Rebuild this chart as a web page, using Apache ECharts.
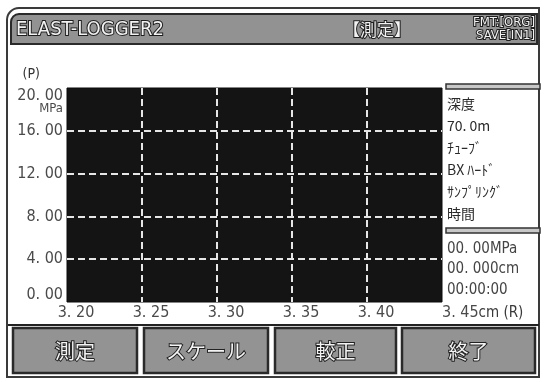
<!DOCTYPE html>
<html>
<head>
<meta charset="utf-8">
<script src="https://cdn.jsdelivr.net/npm/echarts@6/dist/echarts.min.js"></script>
<style>
  html, body { margin: 0; padding: 0; background: #fff; }
  #chart { width: 545px; height: 382px; }
</style>
</head>
<body>
<div id="chart"></div>
<script>
// Axis ticks of the pressure / displacement plot
var xTicks = [3.20, 3.25, 3.30, 3.35, 3.40, 3.45];
var yTicks = [0, 4, 8, 12, 16, 20];
var xUnit = 'cm (R)';
var yUnit = 'MPa';
var yName = '(P)';

// Status panel texts
var infoTop = ['深度', '70. 0m', 'ﾁｭｰﾌﾞ', 'BX ﾊｰﾄﾞ', 'ｻﾝﾌﾟﾘﾝｸﾞ', '時間'];
var infoBottom = ['00. 00MPa', '00. 000cm', '00:00:00'];
var buttons = ['測定', 'スケール', '較正', '終了'];

var numFamily = '"DejaVu Sans Condensed", "DejaVu Sans", sans-serif';
var numFont = numFamily;
var jpFont = '"Noto Sans CJK JP", sans-serif';

function fmtNum(v, d) {
  var s = v.toFixed(d);
  return s.replace('.', '. ');
}

var graphics = [];
// outer frame
graphics.push({ type: 'rect', shape: { x: 7, y: 8, width: 532, height: 369, r: [12, 0, 0, 0] },
  style: { fill: 'none', stroke: '#3a3a3a', lineWidth: 2 }, z: 1 });
// title bar
graphics.push({ type: 'rect', shape: { x: 11, y: 14, width: 526, height: 30, r: [8, 0, 0, 0] },
  style: { fill: '#929292', stroke: '#2a2a2a', lineWidth: 2 }, z: 2 });
var titleStyle = { fill: '#f2f2f2', stroke: '#1e1e1e', lineWidth: 2 };
graphics.push({ type: 'text', x: 16, y: 30, style: Object.assign({ text: 'ELAST-LOGGER2',
  font: '20px ' + numFont, verticalAlign: 'middle' }, titleStyle), z: 3 });
graphics.push({ type: 'text', x: 343, y: 30, style: Object.assign({ text: '【測定】',
  font: '17px ' + jpFont, verticalAlign: 'middle' }, titleStyle), z: 3 });
graphics.push({ type: 'text', x: 535, y: 23, style: Object.assign({ text: 'FMT:[ORG]',
  font: '13px ' + numFont, verticalAlign: 'middle', align: 'right' }, titleStyle), z: 3 });
graphics.push({ type: 'text', x: 535, y: 36, style: Object.assign({ text: 'SAVE[IN1]',
  font: '13px ' + numFont, verticalAlign: 'middle', align: 'right' }, titleStyle), z: 3 });

// status panel separators
[84, 228].forEach(function (y) {
  graphics.push({ type: 'rect', shape: { x: 446, y: y, width: 94, height: 5 },
    style: { fill: '#c8c8c8', stroke: '#333', lineWidth: 1.5 }, z: 2 });
});
infoTop.forEach(function (t, i) {
  graphics.push({ type: 'text', x: 447, y: 104 + i * 22, style: { text: t,
    font: '14px ' + jpFont, fill: '#2a2a2a', verticalAlign: 'middle' }, z: 3 });
});
infoBottom.forEach(function (t, i) {
  graphics.push({ type: 'text', x: 447, y: 249 + i * 20.5, style: { text: t,
    font: '15px ' + numFont, fill: '#444', verticalAlign: 'middle' }, z: 3 });
});

// bottom button row
graphics.push({ type: 'line', shape: { x1: 8, y1: 325, x2: 539, y2: 325 },
  style: { stroke: '#222', lineWidth: 2 }, z: 2 });
var bx = [13, 144, 275, 402], bw = [124, 124, 121, 133];
buttons.forEach(function (t, i) {
  graphics.push({ type: 'rect', shape: { x: bx[i], y: 328, width: bw[i], height: 45 },
    style: { fill: '#939393', stroke: '#2a2a2a', lineWidth: 2.5 }, z: 2 });
  graphics.push({ type: 'text', x: bx[i] + bw[i] / 2, y: 351, style: { text: t,
    font: '20px ' + jpFont, fill: '#f4f4f4', stroke: '#222', lineWidth: 2,
    align: 'center', verticalAlign: 'middle' }, z: 3 });
});

var labelText = { fontFamily: numFamily, fontSize: 16, color: '#4a4a4a' };

var chart = echarts.init(document.getElementById('chart'), null, { renderer: 'canvas' });
chart.setOption({
  animation: false,
  backgroundColor: '#ffffff',
  grid: {
    left: 67, top: 88, width: 375, height: 214,
    show: true, backgroundColor: '#141414', borderColor: '#0a0a0a', borderWidth: 1
  },
  xAxis: {
    type: 'value',
    min: xTicks[0], max: xTicks[xTicks.length - 1], interval: 0.05,
    axisLine: { show: false }, axisTick: { show: false },
    splitLine: { show: true, showMinLine: false, showMaxLine: false,
      lineStyle: { color: '#e6e6e6', width: 2, type: [7, 4] } },
    axisLabel: {
      margin: 3,
      alignMaxLabel: 'left',
      formatter: function (v) {
        var last = Math.abs(v - xTicks[xTicks.length - 1]) < 1e-9;
        return last ? '{m|' + fmtNum(v, 2) + '}{u|' + xUnit + '}' : '{a|' + fmtNum(v, 2) + '}';
      },
      rich: {
        a: Object.assign({ padding: [0, 0, 0, 18] }, labelText),
        m: Object.assign({ padding: [0, 0, 0, 0] }, labelText),
        u: { fontFamily: numFamily, fontSize: 15, color: '#3a3a3a' }
      }
    }
  },
  yAxis: {
    type: 'value',
    min: yTicks[0], max: yTicks[yTicks.length - 1], interval: 4,
    name: yName, nameLocation: 'end', nameGap: 7,
    nameTextStyle: { fontFamily: numFamily, fontSize: 14, color: '#333', align: 'right',
      verticalAlign: 'bottom', padding: [0, 27, 0, 0] },
    axisLine: { show: false }, axisTick: { show: false },
    splitLine: { show: true, showMinLine: false, showMaxLine: false,
      lineStyle: { color: '#e6e6e6', width: 2, type: [7, 4] } },
    axisLabel: {
      margin: 4,
      verticalAlignMaxLabel: 'top',
      verticalAlignMinLabel: 'bottom',
      formatter: function (v) {
        var top = v === yTicks[yTicks.length - 1];
        return top ? '{a|' + fmtNum(v, 2) + '}\n{u|' + yUnit + '}' : '{a|' + fmtNum(v, 2) + '}';
      },
      rich: {
        a: Object.assign({ align: 'right', lineHeight: 15 }, labelText),
        u: { fontFamily: numFamily, fontSize: 13, color: '#4a4a4a', align: 'right', lineHeight: 12 }
      }
    }
  },
  series: [{ type: 'line', data: [], showSymbol: false }],
  graphic: graphics
});
</script>
</body>
</html>
